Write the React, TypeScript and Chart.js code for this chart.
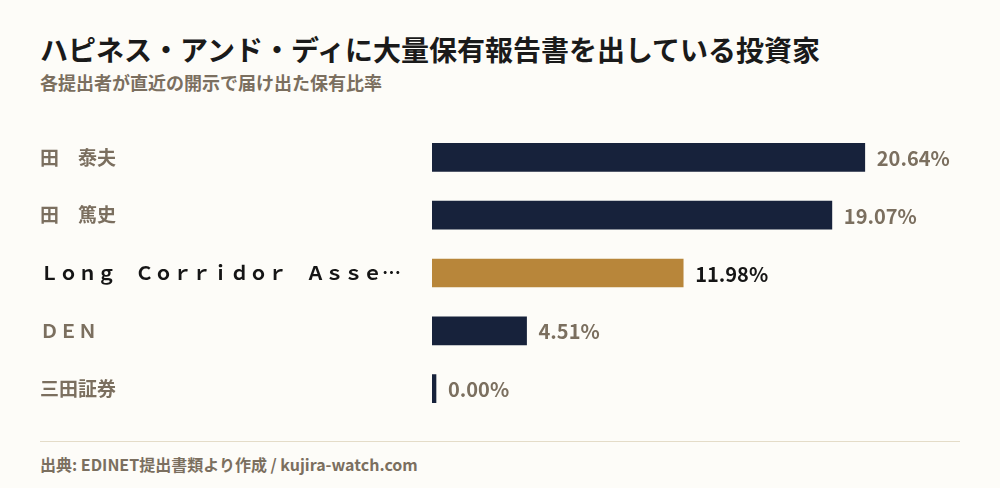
import React, { useEffect, useRef } from "react";
import { Chart, registerables } from "chart.js";

Chart.register(...registerables);

const TITLE = "ハピネス・アンド・ディに大量保有報告書を出している投資家";
const SUBTITLE = "各提出者が直近の開示で届け出た保有比率";
const FOOTER = "出典: EDINET提出書類より作成 / kujira-watch.com";

const holders = [
  "田　泰夫",
  "田　篤史",
  "Ｌｏｎｇ　Ｃｏｒｒｉｄｏｒ　Ａｓｓｅ…",
  "ＤＥＮ",
  "三田証券",
];
const ratios = [20.64, 19.07, 11.98, 4.51, 0.0];
const highlightIndex = 2;

const FONT = '"Noto Sans CJK JP", "Noto Sans", sans-serif';
const BG = "#fdfcf8";
const NAVY = "#17223b";
const GOLD = "#b8863a";
const MUTED = "#7b6f5f";
const DARK = "#151515";

export default function App() {
  const canvasRef = useRef<HTMLCanvasElement | null>(null);

  useEffect(() => {
    document.body.style.margin = "0";
    document.body.style.background = BG;
    const canvas = canvasRef.current;
    if (!canvas) return;

    const valueLabels = {
      id: "valueLabels",
      afterDatasetsDraw(chart: any) {
        const ctx = chart.ctx;
        const meta = chart.getDatasetMeta(0);
        ctx.save();
        ctx.font = `700 20px ${FONT}`;
        ctx.textAlign = "left";
        ctx.textBaseline = "middle";
        meta.data.forEach((bar: any, i: number) => {
          ctx.fillStyle = i === highlightIndex ? DARK : MUTED;
          ctx.fillText(ratios[i].toFixed(2) + "%", bar.x + 12, bar.y + 1);
        });
        ctx.restore();
      },
    };

    const chart = new Chart(canvas, {
      type: "bar",
      data: {
        labels: holders,
        datasets: [
          {
            data: ratios,
            backgroundColor: ratios.map((_, i) => (i === highlightIndex ? GOLD : NAVY)),
            barThickness: 28,
            minBarLength: 4,
            borderWidth: 0,
          },
        ],
      },
      options: {
        indexAxis: "y",
        animation: false,
        responsive: false,
        maintainAspectRatio: false,
        layout: { padding: { left: 40, right: 40, top: 0, bottom: 0 } },
        plugins: {
          legend: { display: false },
          tooltip: { enabled: false },
        },
        scales: {
          x: {
            display: false,
            min: 0,
            max: Math.max(...ratios) * 1.22,
          },
          y: {
            grid: { display: false },
            border: { display: false },
            afterFit: (axis: any) => {
              axis.width = 392;
            },
            ticks: {
              crossAlign: "far",
              padding: 0,
              font: { family: FONT, size: 19, weight: "bold", lineHeight: 1.2 },
              color: (c: any) => (c.index === highlightIndex ? DARK : MUTED),
            },
          },
        },
      },
      plugins: [valueLabels],
    });

    return () => chart.destroy();
  }, []);

  return (
    <div
      style={{
        position: "relative",
        width: 1000,
        height: 488,
        background: BG,
        fontFamily: FONT,
        overflow: "hidden",
      }}
    >
      <div
        style={{
          position: "absolute",
          left: 40,
          top: 35,
          fontSize: 28,
          lineHeight: "28px",
          fontWeight: 700,
          color: "#1a1a1a",
          whiteSpace: "nowrap",
        }}
      >
        {TITLE}
      </div>
      <div
        style={{
          position: "absolute",
          left: 40,
          top: 73,
          fontSize: 18,
          lineHeight: "18px",
          fontWeight: 700,
          color: MUTED,
          whiteSpace: "nowrap",
        }}
      >
        {SUBTITLE}
      </div>
      <canvas
        ref={canvasRef}
        width={1000}
        height={312}
        style={{ position: "absolute", left: 0, top: 117, width: 1000, height: 312 }}
      />
      <div
        style={{
          position: "absolute",
          left: 40,
          top: 441,
          width: 920,
          height: 0,
          borderTop: "1px solid #e4dcc8",
        }}
      />
      <div
        style={{
          position: "absolute",
          left: 40,
          top: 456,
          fontSize: 16,
          lineHeight: "16px",
          fontWeight: 700,
          color: MUTED,
          whiteSpace: "nowrap",
        }}
      >
        {FOOTER}
      </div>
    </div>
  );
}
